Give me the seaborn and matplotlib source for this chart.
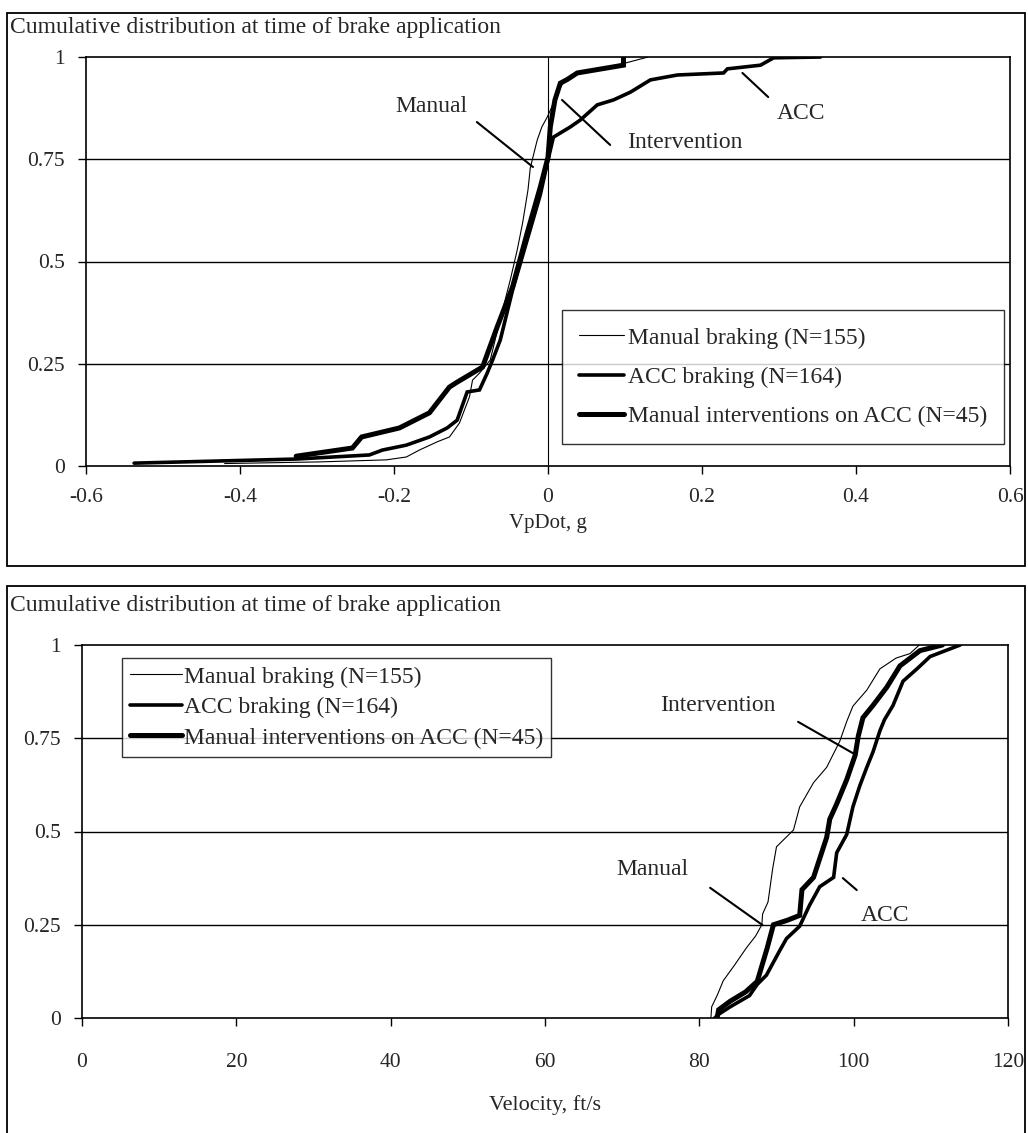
import matplotlib
matplotlib.use("Agg")
import matplotlib.pyplot as plt
from matplotlib.patches import Rectangle
import seaborn as sns
import pandas as pd

# ---- VpDot at brake application (g) vs cumulative fraction ----
vp_manual_x = [-0.42, -0.297, -0.210, -0.184, -0.167, -0.144, -0.128, -0.115, -0.102, -0.098,
               -0.089, -0.075, -0.062, -0.049, -0.040, -0.033, -0.026, -0.023, -0.014, -0.008,
               -0.001, 0.005, 0.012, 0.022, 0.042, 0.100, 0.130]
vp_manual_y = [0.006, 0.010, 0.015, 0.022, 0.039, 0.059, 0.071, 0.105, 0.169, 0.210,
               0.227, 0.259, 0.360, 0.455, 0.528, 0.594, 0.675, 0.729, 0.797, 0.829,
               0.853, 0.878, 0.912, 0.944, 0.961, 0.985, 1.0]

vp_acc_x = [-0.5375, -0.327, -0.232, -0.215, -0.184, -0.154, -0.131, -0.118, -0.105, -0.089,
            -0.079, -0.072, -0.062, -0.046, -0.027, -0.010, 0.0, 0.007, 0.029, 0.042,
            0.064, 0.085, 0.107, 0.133, 0.168, 0.228, 0.233, 0.276, 0.293, 0.354]
vp_acc_y = [0.007, 0.017, 0.027, 0.039, 0.051, 0.071, 0.093, 0.112, 0.181, 0.186,
            0.227, 0.259, 0.308, 0.430, 0.553, 0.663, 0.748, 0.804, 0.829, 0.846,
            0.883, 0.895, 0.914, 0.944, 0.956, 0.961, 0.971, 0.980, 0.998, 1.0]

vp_int_x = [-0.327, -0.254, -0.242, -0.193, -0.154, -0.128, -0.118, -0.085, -0.066, -0.046,
            -0.027, -0.010, 0.0, 0.003, 0.009, 0.016, 0.025, 0.038, 0.098, 0.098]
vp_int_y = [0.024, 0.044, 0.071, 0.093, 0.130, 0.193, 0.205, 0.242, 0.340, 0.438,
            0.570, 0.682, 0.755, 0.829, 0.895, 0.936, 0.945, 0.961, 0.980, 1.0]

# ---- Velocity at brake application (ft/s) vs cumulative fraction ----
vel_manual_x = [81.5, 81.6, 82.3, 83.1, 84.5, 86.1, 87.3, 88.1, 88.2, 88.9, 89.5, 90.0,
                92.2, 93.0, 94.8, 96.5, 98.2, 99.1, 99.9, 101.7, 103.4, 105.5, 107.3, 108.5]
vel_manual_y = [0.0, 0.03, 0.06, 0.10, 0.14, 0.188, 0.22, 0.25, 0.279, 0.311, 0.40, 0.459,
                0.504, 0.566, 0.631, 0.672, 0.742, 0.795, 0.836, 0.879, 0.936, 0.965, 0.977, 1.0]

vel_acc_x = [82.0, 82.5, 84.0, 86.5, 87.5, 88.7, 90.4, 91.3, 93.0, 94.3, 95.6, 97.4, 97.8,
             99.1, 99.9, 100.8, 101.7, 102.5, 103.4, 104.0, 105.1, 106.4, 108.2, 109.9, 113.8]
vel_acc_y = [0.0, 0.01, 0.03, 0.06, 0.09, 0.115, 0.180, 0.213, 0.246, 0.303, 0.352, 0.377, 0.443,
             0.492, 0.566, 0.623, 0.672, 0.713, 0.770, 0.80, 0.838, 0.903, 0.936, 0.969, 1.0]

vel_int_x = [82.3, 82.5, 84.0, 86.0, 87.5, 88.8, 89.6, 91.4, 93.0, 93.3, 94.8, 96.5, 96.9,
             97.8, 99.1, 100.2, 100.6, 101.2, 102.5, 104.3, 106.0, 108.6, 111.5]
vel_int_y = [0.0, 0.022, 0.045, 0.07, 0.098, 0.188, 0.25, 0.262, 0.275, 0.344, 0.377, 0.484, 0.533,
             0.574, 0.639, 0.705, 0.756, 0.805, 0.838, 0.887, 0.944, 0.985, 1.0]

series_labels = ["Manual braking (N=155)", "ACC braking (N=164)",
                 "Manual interventions on ACC (N=45)"]
y_ticks = [0, 0.25, 0.5, 0.75, 1]
y_ticklabels = ["0", "0.25", "0.5", "0.75", "1"]
vp_ticks = [-0.6, -0.4, -0.2, 0, 0.2, 0.4, 0.6]
vp_ticklabels = ["-0.6", "-0.4", "-0.2", "0", "0.2", "0.4", "0.6"]
vel_ticks = [0, 20, 40, 60, 80, 100, 120]
vel_ticklabels = ["0", "20", "40", "60", "80", "100", "120"]
panel_title = "Cumulative distribution at time of brake application"

sns.set_theme(style="white")
plt.rcParams["font.family"] = ["Liberation Serif", "DejaVu Serif"]
plt.rcParams["axes.unicode_minus"] = False

W, H = 1028, 1133
fig = plt.figure(figsize=(W / 100, H / 100), dpi=100)
fig.patch.set_facecolor("white")


def rect(l, t, r, b):
    return [l / W, 1 - b / H, (r - l) / W, (b - t) / H]


line_widths = [0.8, 2.6, 3.6]
FS_TEXT = 17     # titles, legend, callouts
FS_TICK = 15.5   # tick labels


def draw_panel(ax, curves, xlim, xticks, xticklabels, xlabel, xlabel_size, xpad, xlabelpad):
    for (xs, ys), lw, lab in zip(curves, line_widths, series_labels):
        df = pd.DataFrame({"x": xs, "y": ys})
        sns.lineplot(data=df, x="x", y="y", ax=ax, sort=False, estimator=None,
                     color="black", lw=lw, label=lab, solid_joinstyle="miter")
    ax.set_xlim(*xlim)
    ax.set_ylim(0, 1)
    ax.set_xticks(xticks)
    ax.set_xticklabels(xticklabels, fontsize=FS_TICK)
    ax.set_yticks(y_ticks)
    ax.set_yticklabels(y_ticklabels, fontsize=FS_TICK)
    ax.set_xlabel(xlabel, fontsize=xlabel_size, labelpad=xlabelpad)
    ax.set_ylabel("")
    for y in y_ticks[1:-1]:
        ax.axhline(y, color="black", lw=1.0, zorder=0)
    for s in ax.spines.values():
        s.set_color("black")
        s.set_linewidth(1.2)
    ax.tick_params(axis="both", direction="out", length=6, width=1.0,
                   color="black", bottom=True, left=True)
    ax.tick_params(axis="x", pad=xpad)
    ax.tick_params(axis="y", pad=9)
    ax.set_facecolor("white")


ann = dict(arrowstyle="-", color="black", lw=1.5, shrinkA=0, shrinkB=0)

# ---------- upper panel ----------
fig.add_artist(Rectangle((7 / W, 1 - 566 / H), (1025 - 7) / W, (566 - 13) / H,
                         transform=fig.transFigure, fill=False, ec="black", lw=1.3))
fig.text(10 / W, 1 - 28 / H, panel_title, ha="left", va="center", fontsize=FS_TEXT)
ax1 = fig.add_axes(rect(86, 57, 1010, 466))
draw_panel(ax1, [(vp_manual_x, vp_manual_y), (vp_acc_x, vp_acc_y), (vp_int_x, vp_int_y)],
           (-0.6, 0.6), vp_ticks, vp_ticklabels, "VpDot, g", 15, 10, 5)
ax1.axvline(0, color="black", lw=0.8, zorder=0)
leg1 = ax1.legend(loc="upper left", bbox_to_anchor=((562 - 86) / 924, (466 - 310) / 409),
                  fontsize=FS_TEXT, frameon=True, fancybox=False, edgecolor="black",
                  handlelength=1.9, handletextpad=0.17, labelspacing=0.76,
                  borderpad=0.72, borderaxespad=0)
leg1.get_frame().set_linewidth(1.0)

ax1.text(-0.151, 0.878, "Manual", ha="center", va="center", fontsize=FS_TEXT)
ax1.annotate("", xy=(-0.0195, 0.731), xytext=(-0.0924, 0.841), arrowprops=ann)
ax1.text(0.178, 0.792, "Intervention", ha="center", va="center", fontsize=FS_TEXT)
ax1.annotate("", xy=(0.0182, 0.895), xytext=(0.0807, 0.785), arrowprops=ann)
ax1.text(0.328, 0.863, "ACC", ha="center", va="center", fontsize=FS_TEXT)
ax1.annotate("", xy=(0.2525, 0.961), xytext=(0.286, 0.902), arrowprops=ann)

# ---------- lower panel ----------
fig.add_artist(Rectangle((7 / W, -0.05), (1025 - 7) / W, 1 - 586 / H + 0.05,
                         transform=fig.transFigure, fill=False, ec="black", lw=1.3))
fig.text(10 / W, 1 - 605 / H, panel_title, ha="left", va="center", fontsize=FS_TEXT)
ax2 = fig.add_axes(rect(82, 645, 1008, 1018))
draw_panel(ax2, [(vel_manual_x, vel_manual_y), (vel_acc_x, vel_acc_y), (vel_int_x, vel_int_y)],
           (0, 120), vel_ticks, vel_ticklabels, "Velocity, ft/s", 16, 19, 17)
leg2 = ax2.legend(loc="upper left", bbox_to_anchor=((122 - 82) / 926, (1018 - 658) / 373),
                  fontsize=FS_TEXT, frameon=True, fancybox=False, edgecolor="black",
                  handlelength=2.2, handletextpad=0.08, labelspacing=0.38,
                  borderpad=0.34, borderaxespad=0)
leg2.get_frame().set_linewidth(1.0)

ax2.text(82.4, 0.839, "Intervention", ha="center", va="center", fontsize=FS_TEXT)
ax2.annotate("", xy=(99.9, 0.710), xytext=(92.8, 0.794), arrowprops=ann)
ax2.text(73.9, 0.397, "Manual", ha="center", va="center", fontsize=FS_TEXT)
ax2.annotate("", xy=(88.2, 0.249), xytext=(81.4, 0.349), arrowprops=ann)
ax2.text(104.1, 0.276, "ACC", ha="center", va="center", fontsize=FS_TEXT)
ax2.annotate("", xy=(100.4, 0.343), xytext=(98.6, 0.375), arrowprops=ann)

fig.savefig("out.png", dpi=100, facecolor="white")
